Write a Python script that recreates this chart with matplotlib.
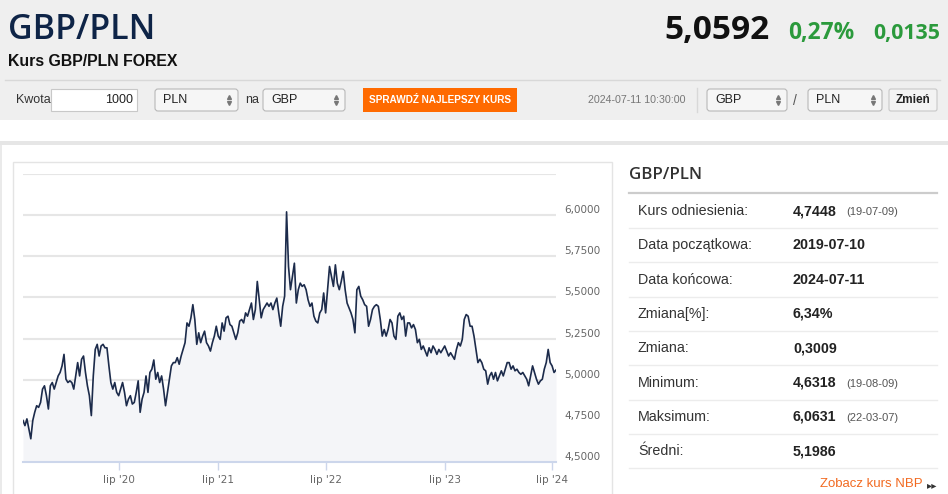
import matplotlib
matplotlib.use('Agg')
import matplotlib.pyplot as plt
from matplotlib.patches import Rectangle, FancyBboxPatch
from matplotlib.transforms import ScaledTranslation

# Dane wykresu ----------------------------------------------------------
kurs = [4.752, 4.721, 4.762, 4.701, 4.641, 4.752, 4.802, 4.842, 4.832, 4.862,
        4.943, 4.963, 4.903, 4.822, 4.963, 4.983, 4.943, 4.983, 5.023, 5.044,
        5.084, 5.154, 5.003, 4.983, 4.993, 4.983, 4.943, 5.023, 5.104, 5.023,
        5.124, 5.144, 5.044, 4.963, 4.903, 4.782, 5.023, 5.184, 5.215, 5.144,
        5.205, 5.215, 5.194, 5.194, 5.084, 4.983, 4.943, 4.983, 4.923, 4.903,
        4.943, 4.983, 4.923, 4.842, 4.882, 4.903, 4.852, 4.862, 4.923, 4.993,
        4.802, 4.882, 4.923, 5.023, 4.923, 5.044, 5.064, 5.120, 5.003, 5.044,
        4.983, 5.023, 4.943, 4.842, 4.923, 5.003, 5.084, 5.104, 5.104, 5.134,
        5.094, 5.144, 5.184, 5.225, 5.345, 5.325, 5.376, 5.456, 5.366, 5.215,
        5.285, 5.225, 5.265, 5.295, 5.225, 5.205, 5.174, 5.225, 5.265, 5.325,
        5.265, 5.245, 5.345, 5.295, 5.376, 5.386, 5.335, 5.325, 5.285, 5.245,
        5.285, 5.356, 5.366, 5.345, 5.406, 5.386, 5.426, 5.466, 5.366, 5.426,
        5.597, 5.486, 5.376, 5.426, 5.446, 5.466, 5.446, 5.466, 5.426, 5.466,
        5.496, 5.406, 5.325, 5.446, 5.507, 6.020, 5.688, 5.547, 5.627, 5.708,
        5.466, 5.547, 5.587, 5.567, 5.577, 5.547, 5.486, 5.446, 5.466, 5.386,
        5.356, 5.345, 5.406, 5.426, 5.527, 5.406, 5.547, 5.688, 5.627, 5.567,
        5.698, 5.587, 5.547, 5.597, 5.658, 5.547, 5.466, 5.436, 5.406, 5.366,
        5.285, 5.547, 5.567, 5.507, 5.486, 5.456, 5.446, 5.325, 5.366, 5.426,
        5.446, 5.456, 5.446, 5.366, 5.265, 5.305, 5.265, 5.305, 5.366, 5.345,
        5.265, 5.245, 5.386, 5.406, 5.366, 5.386, 5.265, 5.345, 5.345, 5.315,
        5.335, 5.305, 5.225, 5.245, 5.184, 5.205, 5.174, 5.144, 5.194, 5.164,
        5.205, 5.184, 5.154, 5.184, 5.164, 5.184, 5.205, 5.174, 5.144, 5.164,
        5.144, 5.124, 5.184, 5.225, 5.205, 5.245, 5.366, 5.396, 5.386, 5.325,
        5.325, 5.265, 5.184, 5.104, 5.124, 5.104, 5.064, 5.054, 4.973, 5.023,
        5.044, 5.003, 5.044, 4.993, 5.023, 5.054, 5.023, 5.064, 5.104, 5.104,
        5.064, 5.084, 5.054, 5.064, 5.044, 5.033, 5.044, 5.023, 5.003, 4.963,
        5.023, 5.084, 5.044, 5.003, 4.973, 4.993, 5.003, 5.064, 5.104, 5.184,
        5.104, 5.084, 5.044, 5.059]
os_y = [4.5, 4.75, 5.0, 5.25, 5.5, 5.75, 6.0, 6.25]
os_y_etykiety = ['4,5000', '4,7500', '5,0000', '5,2500', '5,5000', '5,7500', '6,0000', '']
os_x_pozycje = [49, 100, 155, 216, 271]
os_x_etykiety = ["lip '20", "lip '21", "lip '22", "lip '23", "lip '24"]

etykiety = ['Kurs odniesienia:', 'Data początkowa:', 'Data końcowa:', 'Zmiana[%]:',
            'Zmiana:', 'Minimum:', 'Maksimum:', 'Średni:']
wartosci = ['4,7448', '2019-07-10', '2024-07-11', '6,34%', '0,3009', '4,6318',
            '6,0631', '5,1986']
daty = ['(19-07-09)', '', '', '', '', '(19-08-09)', '(22-03-07)', '']

kurs_aktualny = '5,0592'
zmiana_proc = '0,27%'
zmiana_abs = '0,0135'
#--------------------------------------------------------------------

OPEN = 'Open Sans'
ARIAL = 'Liberation Sans'

W, H = 948, 494
fig = plt.figure(figsize=(W / 100, H / 100), dpi=100)
fig.patch.set_facecolor('white')

# tło w pikselach
bg = fig.add_axes([0, 0, 1, 1])
bg.set_xlim(0, W)
bg.set_ylim(H, 0)
bg.axis('off')

def rect(x0, y0, x1, y1, fc, ec='none', lw=1, z=1):
    bg.add_patch(Rectangle((x0, y0), x1 - x0, y1 - y0, facecolor=fc, edgecolor=ec, lw=lw, zorder=z))

def select(x0, x1, txt):
    bg.add_patch(FancyBboxPatch((x0, 89), x1 - x0, 22, boxstyle='round,pad=0,rounding_size=3',
                                facecolor='#f6f6f6', edgecolor='#b8b8b8', lw=0.8, zorder=3))
    bg.text(x0 + 8, 100, txt, fontsize=9, family=ARIAL, color='#222', va='center', zorder=4)
    bg.plot([x1 - 9], [97], marker='^', ms=2.8, color='#777', zorder=4)
    bg.plot([x1 - 9], [103.5], marker='v', ms=2.8, color='#777', zorder=4)

renderer = fig.canvas.get_renderer()
def dopasuj(t, szer):
    # dopasowanie rozmiaru czcionki do szerokosci w px
    w = t.get_window_extent(renderer).width
    t.set_fontsize(t.get_fontsize() * szer / w)

# nagłówek
rect(0, 0, W, 120, '#efefef')
rect(0, 141, W, 145, '#e6e6e6')
rect(0, 145, 2, H, '#eaeaea')
t = bg.text(8, 39, 'GBP/PLN', fontsize=28, family=OPEN, weight='semibold', color='#0e2447', va='baseline')
dopasuj(t, 147)
t = bg.text(770, 39, kurs_aktualny, fontsize=26, family=OPEN, weight='bold', color='#111', ha='right', va='baseline')
dopasuj(t, 105)
t = bg.text(854, 39, zmiana_proc, fontsize=19, family=OPEN, weight='bold', color='#2b9a3c', ha='right', va='baseline')
dopasuj(t, 66)
t = bg.text(940, 39, zmiana_abs, fontsize=19, family=OPEN, weight='bold', color='#2b9a3c', ha='right', va='baseline')
dopasuj(t, 67)
bg.text(8, 62, 'Kurs GBP/PLN FOREX', fontsize=11.4, family=ARIAL, weight='bold', color='#111', va='center')
bg.plot([5, 940], [80, 80], color='#d8d8d8', lw=1, zorder=2)

# pasek kontrolek
bg.text(16, 100, 'Kwota', fontsize=9, family=ARIAL, color='#333', va='center')
rect(51, 89, 137, 111, 'white', '#c8c8c8', 0.8, 3)
bg.text(133, 100, '1000', fontsize=9, family=ARIAL, color='#222', ha='right', va='center', zorder=4)
select(155, 238, 'PLN')
bg.text(245, 100, 'na', fontsize=9, family=ARIAL, color='#333', va='center')
select(263, 345, 'GBP')
rect(363, 88, 517, 112, '#ff6a00', z=3)
bg.text(440, 100, 'SPRAWDŹ NAJLEPSZY KURS', fontsize=7.2, family=ARIAL, weight='bold',
        color='white', ha='center', va='center', zorder=4)
bg.text(637, 100, '2024-07-11 10:30:00', fontsize=7.7, family=ARIAL, color='#777', ha='center', va='center')
bg.plot([697, 697], [88, 112], color='#d8d8d8', lw=1)
select(707, 787, 'GBP')
bg.text(795, 101, '/', fontsize=10, family=ARIAL, color='#555', ha='center', va='center')
select(808, 882, 'PLN')
bg.add_patch(FancyBboxPatch((889, 89), 48, 22, boxstyle='round,pad=0,rounding_size=2',
                            facecolor='#f3f3f3', edgecolor='#c8c8c8', lw=0.8, zorder=3))
bg.text(913, 100, 'Zmień', fontsize=8.5, family=ARIAL, weight='bold', color='#222', ha='center', va='center', zorder=4)

# ramka wykresu
rect(13, 162, 612, H + 5, 'white', '#e4e4e4', 1, 1)

# panel po prawej
t = bg.text(629, 175, 'GBP/PLN', fontsize=12, family=OPEN, weight='semibold', color='#333', va='center')
dopasuj(t, 73)
bg.plot([629, 937], [193, 193], color='#cccccc', lw=1.6)
for i in range(len(etykiety)):
    yy = 211 + 34.3 * i
    bg.text(638, yy, etykiety[i], fontsize=10.3, family=ARIAL, color='#333', va='center')
    bg.text(793, yy, wartosci[i], fontsize=10.3, family=ARIAL, weight='bold', color='#222', va='center')
    if daty[i]:
        bg.text(846, yy + 1, daty[i], fontsize=8, family=ARIAL, color='#555', va='center')
    bg.plot([629, 937], [yy + 17, yy + 17], color='#ececec', lw=1)
bg.text(923, 484, 'Zobacz kurs NBP', fontsize=9.5, family=ARIAL, color='#f26a21', ha='right', va='center')
bg.text(937, 485, '▸▸', fontsize=7.5, family='DejaVu Sans', color='#333', ha='right', va='center')

# wykres kursu
ax = fig.add_axes([23 / W, 1 - 462 / H, (556 - 23) / W, (462 - 174) / H])
ax.set_facecolor('none')
x = list(range(len(kurs)))
ax.fill_between(x, kurs, 4.5, color='#f4f5f8', lw=0, zorder=1)
ax.plot(x, kurs, color='#1c2b4b', lw=1.2, zorder=3)
ax.set_xlim(0, len(kurs) - 1)
ax.set_ylim(4.5, 6.25)
ax.set_yticks(os_y)
ax.set_yticklabels(os_y_etykiety)
ax.yaxis.tick_right()
ax.tick_params(axis='y', length=0, pad=6, labelsize=7.5, labelcolor='#666')
przesun = ScaledTranslation(0, 6 / 100, fig.dpi_scale_trans)
for lab in ax.get_yticklabels():
    lab.set_transform(lab.get_transform() + przesun)
ax.set_xticks(os_x_pozycje)
ax.set_xticklabels(os_x_etykiety)
ax.tick_params(axis='x', length=6, width=1, color='#ccd6eb', pad=3, labelsize=7.5, labelcolor='#666')
ax.grid(axis='y', color='#e6e6e6', lw=1.5, zorder=0)
for s in ['top', 'left', 'right']:
    ax.spines[s].set_visible(False)
ax.spines['bottom'].set_color('#ccd6eb')
ax.spines['bottom'].set_linewidth(1.5)
ax.spines['bottom'].set_zorder(4)
ax.set_axisbelow(True)

plt.savefig('out.png', dpi=100)
